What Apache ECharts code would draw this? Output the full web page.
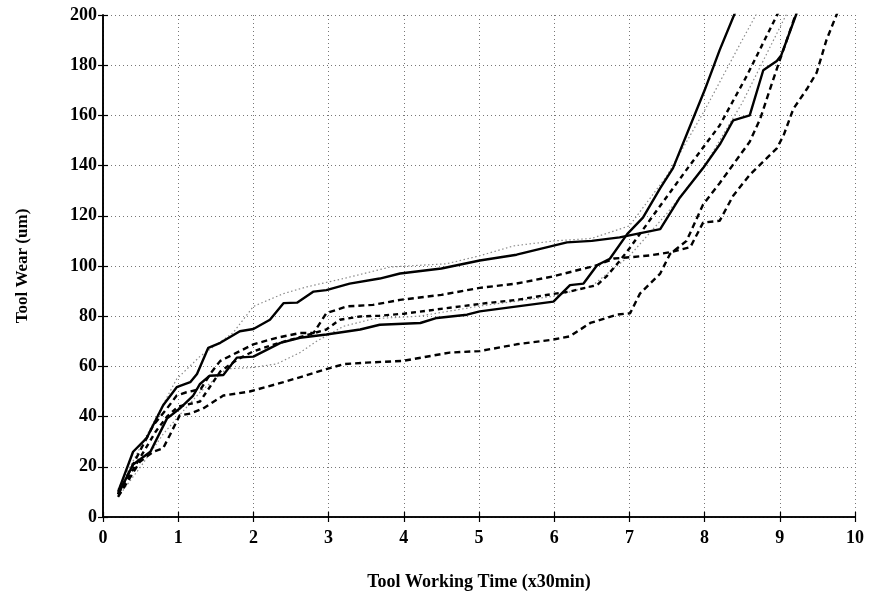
<!DOCTYPE html>
<html><head><meta charset="utf-8">
<script src="https://cdn.jsdelivr.net/npm/echarts@6/dist/echarts.min.js"></script>
<style>html,body{margin:0;padding:0;background:#fff}#c{width:873px;height:596px}</style>
</head><body><div id="c"></div>
<script>
// Series data: [time (x30min), wear (um)]
const solid1 = [[0.2,10],[0.4,26],[0.58,31.4],[0.8,44.5],[0.98,51.7],[1.16,53.7],[1.25,57],[1.4,67.4],[1.56,69.4],[1.82,74],[2.0,74.9],[2.22,78.6],[2.4,85.2],[2.58,85.4],[2.8,89.8],[2.97,90.4],[3.28,93],[3.68,95],[3.95,97],[4.5,99],[5.01,102.2],[5.5,104.5],[6.17,109.4],[6.5,110],[6.87,111.4],[7.41,114.7],[7.67,127.2],[7.98,139],[8.21,148.8],[8.38,158],[8.6,160],[8.78,178],[8.96,181.7],[9.02,184],[9.24,202]];
const solid2 = [[0.2,9],[0.4,20.9],[0.63,26],[0.85,39.2],[1.02,43.2],[1.2,48.4],[1.29,53],[1.42,56.3],[1.6,56.6],[1.78,63.5],[2.0,63.9],[2.36,69.4],[2.62,71.4],[2.97,72.7],[3.42,74.7],[3.68,76.6],[4.22,77.3],[4.44,79.3],[4.84,80.6],[5.01,81.9],[5.99,85.8],[6.21,92.4],[6.39,93],[6.57,100.3],[6.74,102.9],[6.97,112.7],[7.18,119.3],[7.41,131],[7.58,139],[8.0,170],[8.2,186],[8.42,202]];
const dashed1 = [[0.2,9],[0.4,21],[0.67,36.6],[0.85,43.2],[0.98,48.4],[1.11,49.7],[1.3,51],[1.45,58],[1.56,62.2],[1.78,65.5],[2.0,68.8],[2.31,71.4],[2.62,73.3],[2.8,73.3],[2.97,81.2],[3.24,83.9],[3.59,84.5],[3.95,86.5],[4.5,88.5],[5.01,91.3],[5.5,93],[5.99,95.9],[6.57,100.3],[6.8,103],[7.01,103.5],[7.27,104.2],[7.54,105.5],[7.81,107.5],[7.98,117.3],[8.2,118],[8.38,128],[8.6,136.3],[8.78,141.6],[8.96,146.9],[9.05,152],[9.18,162.6],[9.36,170.5],[9.49,177],[9.62,190],[9.78,202]];
const dashed2 = [[0.2,9],[0.4,19],[0.7,34],[0.85,40],[1.0,44],[1.29,46],[1.56,58],[1.8,63],[2.0,66],[2.3,69],[2.6,71.5],[2.97,74.7],[3.15,78.6],[3.42,79.9],[3.68,80.2],[4.0,81],[4.57,83.2],[5.01,84.9],[5.5,86.5],[5.99,88.9],[6.2,89.8],[6.57,92.4],[6.7,96],[6.87,102],[7.0,107],[7.41,124],[7.8,140],[8.2,156],[8.56,175.7],[8.98,201]];
const dashed3 = [[0.2,8],[0.49,22],[0.67,26],[0.8,27.4],[0.89,32.7],[1.02,40.5],[1.16,41.2],[1.33,43.2],[1.6,48.4],[1.95,50],[2.4,53.7],[2.97,58.9],[3.2,60.9],[3.5,61.5],[3.99,62.2],[4.61,65.5],[5.01,66.1],[5.5,68.8],[5.99,70.7],[6.21,72],[6.48,77.3],[6.83,80.6],[7.01,81.2],[7.14,89],[7.41,97],[7.54,104.8],[7.76,110],[7.98,124.5],[8.2,133],[8.6,149.5],[8.74,158.7],[8.87,170.5],[9.0,182],[9.22,201]];
const dotted1 = [[0.2,11],[0.5,28],[0.98,55],[1.29,64],[1.73,73.4],[2.0,83.9],[2.4,89],[2.71,91.7],[3.2,95],[3.82,99.6],[4.57,100.9],[5.0,104],[5.46,108],[6.0,110],[6.5,111],[7.0,116],[7.5,136],[8.0,162],[8.5,190],[8.7,201]];
const dotted2 = [[0.2,8],[0.5,20],[0.8,33],[1.0,40],[1.3,50],[1.64,59],[2.0,59.6],[2.31,61],[2.62,65.5],[2.84,70],[3.2,76],[3.6,79],[4.2,80],[5.0,84],[5.5,86],[6.0,88],[6.5,92],[7.0,104],[7.5,121],[8.0,140],[8.5,165],[9.0,195],[9.1,201]];
const xTicks = [0,1,2,3,4,5,6,7,8,9,10];
const yTicks = [0,20,40,60,80,100,120,140,160,180,200];

const font = '"Liberation Serif", "DejaVu Serif", serif';
function mk(data, width, color, dash){
  return {type:'line', data:data, symbol:'none', smooth:false, clip:true,
    lineStyle:{color:color, width:width, type: dash || 'solid'}, z: 3};
}
const chart = echarts.init(document.getElementById('c'), null, {renderer:'canvas'});
const axisCommon = {
  min: 0, axisLine:{show:true, lineStyle:{color:'#000', width:1.6}},
  axisTick:{show:true, inside:true, length:5, lineStyle:{color:'#000', width:1.2}},
};
chart.setOption({
  animation:false,
  backgroundColor:'#fff',
  grid:{left:103, right:18, top:15, bottom:73, show:false},
  xAxis:[
    Object.assign({}, axisCommon, {type:'value', position:'bottom', max:10, interval:1,
      name:'Tool Working Time (x30min)', nameLocation:'middle', nameGap:56,
      nameTextStyle:{fontFamily:font, fontWeight:'bold', fontSize:18, color:'#000'},
      axisLabel:{fontFamily:font, fontWeight:'bold', fontSize:18, color:'#000', margin:12,
        formatter: v => xTicks.includes(v) ? String(v) : ''},
      splitLine:{show:true, lineStyle:{color:'#777', width:1, type:[1,3]}}}),
    Object.assign({}, axisCommon, {type:'value', position:'top', max:10, interval:1,
      axisLabel:{show:false}, splitLine:{show:false}})
  ],
  yAxis:[
    Object.assign({}, axisCommon, {type:'value', position:'left', max:200, interval:20,
      name:'Tool Wear (um)', nameLocation:'middle', nameGap:72, nameRotate:90,
      nameTextStyle:{fontFamily:font, fontWeight:'bold', fontSize:17, color:'#000'},
      axisLabel:{fontFamily:font, fontWeight:'bold', fontSize:18, color:'#000', margin:6,
        formatter: v => yTicks.includes(v) ? String(v) : ''},
      splitLine:{show:true, lineStyle:{color:'#777', width:1, type:[1,3]}}}),
    Object.assign({}, axisCommon, {type:'value', position:'right', max:200, interval:20,
      axisLabel:{show:false}, splitLine:{show:false}})
  ],
  series:[
    mk(dotted1,1.2,'#8a8a8a',[1.5,2.5]),
    mk(dotted2,1.2,'#8a8a8a',[1.5,2.5]),
    mk(solid1,2.4,'#000'),
    mk(solid2,2.4,'#000'),
    mk(dashed1,2.4,'#000',[6,4]),
    mk(dashed2,2.4,'#000',[5,4]),
    mk(dashed3,2.4,'#000',[6,4])
  ]
});
</script></body></html>
